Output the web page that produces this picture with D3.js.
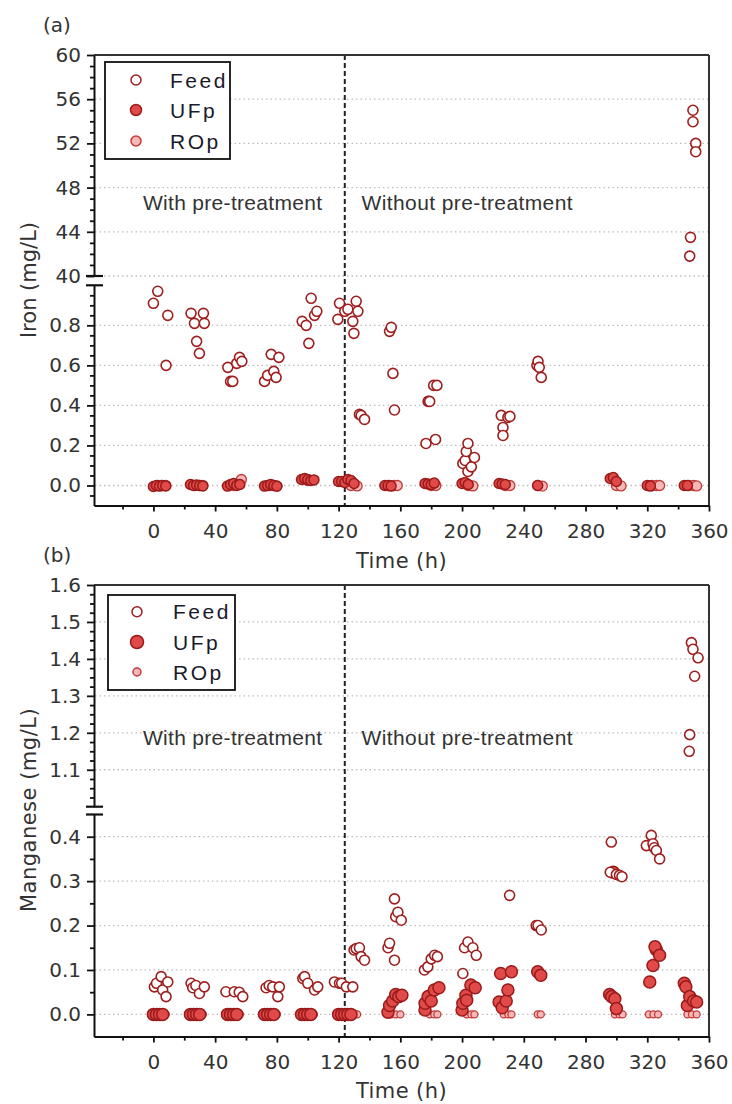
<!DOCTYPE html>
<html><head><meta charset="utf-8">
<script src="https://cdn.jsdelivr.net/npm/d3@7"></script>
<style>
body{margin:0;background:#fff}
svg{display:block}
</style>
</head><body>
<svg id="chart" width="732" height="1104"></svg>
<script>
// ---------- data ----------
const timeTicks = [0,40,80,120,160,200,240,280,320,360];
const timeMinorTicks = [-20,20,60,100,140,180,220,260,300,340];
const ironHighTicks = [40,44,48,52,56,60];
const ironLowTicks = [0,0.2,0.4,0.6,0.8];
const mnHighTicks = [1.1,1.2,1.3,1.4,1.5,1.6];
const mnLowTicks = [0,0.1,0.2,0.3,0.4];
const seriesNames = ["Feed","UFp","ROp"];
const phaseLabels = ["With pre-treatment","Without pre-treatment"];
const phaseSwitch = 124;
const panelLabels = ["(a)","(b)"];
const yTitles = ["Iron (mg/L)","Manganese (mg/L)"];
const xTitle = "Time (h)";

// [time (h), concentration (mg/L)]
const ironFeed = [
 [0,0.91],[2.8,0.97],[8.2,0.60],[9.3,0.85],
 [24.4,0.86],[26.6,0.81],[28,0.72],[29.8,0.66],[32.4,0.86],[33,0.81],
 [48.2,0.59],[50,0.52],[51.4,0.52],[54,0.61],[55.8,0.64],[57.3,0.62],
 [72,0.52],[74,0.55],[76.3,0.655],[78,0.57],[79.5,0.54],[81.3,0.64],
 [96.4,0.82],[99,0.80],[100.7,0.71],[102.2,0.935],[104.4,0.85],[105.9,0.87],
 [119.5,0.83],[120.6,0.91],[124,0.87],[126,0.88],[129.2,0.82],[129.9,0.76],[131.4,0.92],[132.5,0.87],
 [133.5,0.355],[134.6,0.35],[136.8,0.33],
 [153,0.77],[154.1,0.79],[155.2,0.56],[156.2,0.377],
 [176.6,0.21],[178,0.42],[179,0.42],[181.6,0.50],[182.8,0.23],[183.7,0.50],
 [200.5,0.11],[202,0.125],[202.7,0.17],[203.8,0.21],[203.8,0.07],[206,0.093],[208,0.14],
 [225.4,0.35],[226.5,0.29],[226.5,0.25],[229.7,0.34],[231,0.345],
 [248.5,0.60],[249.2,0.62],[250,0.59],[251.3,0.54],
 [347.5,41.8],[348,43.5],[349.6,55.0],[349.6,53.96],[351.4,52.0],[351.4,51.25]
];
const ironUFp = [
 [0,-0.005],[2,0],[4,-0.003],[6,0],[8,-0.002],
 [24,0.005],[26,0],[28,0.003],[30,0],[32,-0.002],
 [48,-0.003],[50,0.005],[52,0.01],[54,0],[56,0.005],
 [72,-0.003],[74,0],[76,0.005],[78,0],[80,-0.004],
 [96,0.03],[98,0.035],[100,0.03],[102,0.025],[104,0.028],
 [120,0.02],[122,0.02],[124,0.015],[126,0.03],[128,0.025],[130,0.01],
 [150,0],[152,0],[154,-0.003],
 [176,0.01],[178,0.008],[180,0.005],[182,0.012],
 [200,0.01],[202,0.015],[204,0.005],
 [224,0.01],[226,0.008],[228,0.005],
 [249,0],
 [296,0.035],[298,0.04],[300,0.02],
 [320,0],[322,-0.003],
 [344,0],[346,0]
];
const ironROp = [
 [3,0],[5,0],[8,0],
 [27,0],[30,0],[32,0],
 [52,0],[54,0.005],[57,0.03],
 [75,0],[78,0],[80,-0.002],
 [100,0.025],
 [128,0],[132,-0.002],
 [153,0],[156,0],[158,0],
 [180,0],[183,0],
 [204,0],[207,-0.002],
 [228,0],[231,0],
 [249,0],[252,-0.003],
 [300,0],[303,-0.002],
 [323,0],[326,0],[328,0],
 [347,0],[350,0],[352,-0.002]
];
const mnFeed = [
 [0.6,0.062],[2,0.07],[5,0.085],[6,0.055],[8.2,0.04],[9.3,0.073],
 [24.4,0.07],[25.5,0.06],[27.5,0.065],[29.8,0.047],[33,0.062],
 [47,0.051],[52.4,0.051],[55.6,0.05],[57.9,0.04],
 [73,0.06],[75,0.065],[77.3,0.062],[80.6,0.04],[81.6,0.062],
 [96.8,0.081],[98,0.085],[100,0.07],[104.4,0.055],[106.5,0.062],
 [117.3,0.073],[120.6,0.07],[122,0.07],[125,0.062],[129.2,0.062],
 [130,0.145],[131.4,0.148],[133.5,0.15],[134.6,0.13],[136.8,0.122],
 [152,0.15],[153,0.16],[156.2,0.122],[156.2,0.26],[157,0.22],[158.4,0.23],[160.6,0.212],
 [175.6,0.10],[177.8,0.107],[180,0.125],[182.2,0.133],[184,0.13],
 [200.5,0.092],[201.6,0.15],[203.8,0.163],[207,0.15],[209.2,0.133],
 [230.8,0.268],
 [248,0.20],[249.2,0.20],[251.3,0.19],
 [296.7,0.388],[296,0.32],[300,0.315],[302,0.313],[303.6,0.31],
 [319.4,0.38],[322.6,0.403],[323.7,0.384],[324.5,0.375],[325.9,0.369],[328,0.35],
 [347.2,1.15],[347.5,1.195],[348.6,1.444],[349.6,1.426],[350.7,1.353],[352.9,1.403]
];
const mnUFp = [
 [0,0],[2,0],[4,0],[6,0],
 [24,0],[26,0],[28,0],[30,0],
 [48,0],[50,0],[52,0],[54,0],
 [72,0],[74,0],[76,0],[78,0],
 [96,0],[98,0],[100,0],[102,0],
 [120,0],[122,0],[124,0],[126,0],[128,0],
 [152,0.005],[153,0.02],[155,0.03],[157,0.045],[159,0.04],[161,0.043],
 [176,0.01],[176,0.025],[178,0.04],[180,0.03],[182,0.055],[185,0.06],
 [200,0.01],[200.5,0.025],[202.5,0.043],[203,0.032],[205.7,0.066],[208.5,0.06],
 [224,0.028],[226,0.015],[225,0.092],[228.6,0.03],[229.7,0.055],[232,0.096],
 [249,0.096],[251,0.088],
 [295.6,0.045],[297,0.04],[299,0.035],[300,0.013],[298,0.32],
 [321.6,0.073],[323.7,0.11],[326,0.145],[325,0.152],[328,0.133],
 [344,0.07],[345,0.062],[346,0.02],[347.5,0.04],[350,0.03],[352,0.028]
];
const mnROp = [
 [4,0],[6,0],[8,0],
 [28,0],[30,0],[32,0],
 [52,0],[54,0],[56,0],
 [76,0],[78,0],[80,0],
 [100,0],[102,0],[104,0],
 [128,0],[130,0],[132,0],
 [154,0],[157,0],[160,0],
 [179,0],[182,0],[184,0],
 [203,0],[206,0],[208,0],
 [227,0],[230,0],[232,0],
 [249,0],[251,0],
 [299,0],[302,0],[304,0],
 [321,0],[324,0],[327,0],
 [346,0],[349,0],[352,0]
];

// ---------- style ----------
const C = {
  feedStroke:"#9e1e1e", ufFill:"#e04a48", ufStroke:"#9a1a1a",
  roFill:"#f6b8b6", roStroke:"#c23a38", grid:"#bdbdbd", text:"#333"
};
const tickFont = '"DejaVu Sans", Verdana, sans-serif';
const textFont = '"Liberation Sans", Arial, sans-serif';

const svg = d3.select("#chart");
const x = d3.scaleLinear().domain([-38.5,360]).range([94,709]);

function drawPanel(p){
  const g = svg.append("g");
  const yHi = d3.scaleLinear().domain(p.hiDomain).range(p.hiRange);
  const yLo = d3.scaleLinear().domain(p.loDomain).range(p.loRange);
  const y = v => v >= p.hiDomain[0] ? yHi(v) : yLo(v);
  const top = p.hiRange[1], bottom = p.loRange[0];

  // grid
  const gridVals = p.hiTicks.filter(v => v !== p.hiDomain[1]).map(v=>yHi(v))
    .concat(p.loTicks.map(v=>yLo(v)));
  g.append("g").selectAll("line").data(gridVals).join("line")
    .attr("x1",95).attr("x2",708).attr("y1",d=>d).attr("y2",d=>d)
    .attr("stroke",C.grid).attr("stroke-width",1.3).attr("stroke-dasharray","1.5,3");

  // phase divider
  g.append("line").attr("x1",x(phaseSwitch)).attr("x2",x(phaseSwitch))
    .attr("y1",top).attr("y2",bottom)
    .attr("stroke","#222").attr("stroke-width",2).attr("stroke-dasharray","5,3");

  // phase labels
  g.append("text").attr("x",143).attr("y",p.phaseY).text(phaseLabels[0])
    .attr("font-family",textFont).attr("font-size",21).attr("letter-spacing",0.3).attr("fill",C.text);
  g.append("text").attr("x",361.5).attr("y",p.phaseY).text(phaseLabels[1])
    .attr("font-family",textFont).attr("font-size",21).attr("letter-spacing",0.4).attr("fill",C.text);

  // frame (top + right)
  g.append("line").attr("x1",94).attr("x2",709).attr("y1",top).attr("y2",top)
    .attr("stroke","#333").attr("stroke-width",2);
  g.append("line").attr("x1",709).attr("x2",709).attr("y1",top).attr("y2",bottom)
    .attr("stroke","#333").attr("stroke-width",2);

  function styleAxis(sel){
    sel.selectAll(".domain").attr("stroke","#111").attr("stroke-width",2);
    sel.selectAll(".tick line").attr("stroke","#111").attr("stroke-width",1.8);
    sel.selectAll("text").attr("font-family",tickFont).attr("font-size",20)
      .attr("fill",C.text);
  }
  // left axis segments
  const aHi = g.append("g").attr("transform","translate(94,0)")
    .call(d3.axisLeft(yHi).tickValues(p.hiTicks).tickSize(7).tickSizeOuter(0).tickPadding(6)
      .tickFormat(p.hiFormat));
  styleAxis(aHi);
  const aLo = g.append("g").attr("transform","translate(94,0)")
    .call(d3.axisLeft(yLo).tickValues(p.loTicks).tickSize(7).tickSizeOuter(0).tickPadding(6)
      .tickFormat(p.loFormat));
  styleAxis(aLo);
  const mHi = g.append("g").attr("transform","translate(94,0)")
    .call(d3.axisLeft(yHi).tickValues(p.hiMinor).tickSize(4).tickFormat(""));
  mHi.select(".domain").remove(); styleAxis(mHi);
  const mLo = g.append("g").attr("transform","translate(94,0)")
    .call(d3.axisLeft(yLo).tickValues(p.loMinor).tickSize(4).tickFormat(""));
  mLo.select(".domain").remove(); styleAxis(mLo);

  // break marks
  [p.hiRange[0], p.loRange[1]].forEach(yy=>{
    g.append("line").attr("x1",86).attr("x2",103).attr("y1",yy).attr("y2",yy)
      .attr("stroke","#111").attr("stroke-width",2.2);
  });

  // bottom axis
  const ax = g.append("g").attr("transform",`translate(0,${bottom})`)
    .call(d3.axisBottom(x).tickValues(timeTicks).tickSize(6).tickSizeOuter(0).tickPadding(12)
      .tickFormat(d3.format("d")));
  styleAxis(ax);
  const axm = g.append("g").attr("transform",`translate(0,${bottom})`)
    .call(d3.axisBottom(x).tickValues(timeMinorTicks).tickSize(4).tickFormat(""));
  axm.select(".domain").remove(); styleAxis(axm);

  // axis titles
  g.append("text").attr("x",(94+709)/2).attr("y",p.xTitleY).attr("text-anchor","middle")
    .text(xTitle).attr("font-family",tickFont).attr("font-size",21).attr("letter-spacing",0.4).attr("fill",C.text);
  g.append("text").attr("transform",`translate(36,${p.yTitleC}) rotate(-90)`)
    .attr("text-anchor","middle").text(p.yTitle)
    .attr("font-family",tickFont).attr("font-size",21).attr("letter-spacing",p.yTitleLS).attr("fill",C.text);
  g.append("text").attr("x",43).attr("y",p.labelY).text(p.label)
    .attr("font-family",tickFont).attr("font-size",20).attr("fill",C.text);

  // points
  g.append("g").selectAll("circle").data(p.ro).join("circle")
    .attr("cx",d=>x(d[0])).attr("cy",d=>y(d[1])).attr("r",p.rRO)
    .attr("fill",C.roFill).attr("stroke",C.roStroke).attr("stroke-width",1.3);
  g.append("g").selectAll("circle").data(p.uf).join("circle")
    .attr("cx",d=>x(d[0])).attr("cy",d=>y(d[1])).attr("r",p.rUF)
    .attr("fill",C.ufFill).attr("stroke",C.ufStroke).attr("stroke-width",1.5);
  g.append("g").selectAll("circle").data(p.feed).join("circle")
    .attr("cx",d=>x(d[0])).attr("cy",d=>y(d[1])).attr("r",p.rFeed)
    .attr("fill","#fff").attr("stroke",C.feedStroke).attr("stroke-width",1.6);

  // legend
  const L = p.legend;
  const lg = g.append("g");
  lg.append("rect").attr("x",L.x).attr("y",L.y).attr("width",L.w).attr("height",L.h)
    .attr("fill","#fff").attr("stroke","#111").attr("stroke-width",1.8);
  const styles = [
    {fill:"#fff",stroke:C.feedStroke,r:L.r[0]},
    {fill:C.ufFill,stroke:C.ufStroke,r:L.r[1]},
    {fill:C.roFill,stroke:C.roStroke,r:L.r[2]}
  ];
  seriesNames.forEach((nm,i)=>{
    const yy = L.rows[i];
    lg.append("circle").attr("cx",L.mx).attr("cy",yy).attr("r",styles[i].r)
      .attr("fill",styles[i].fill).attr("stroke",styles[i].stroke).attr("stroke-width",1.5);
    lg.append("text").attr("x",L.tx).attr("y",yy+7.5).text(nm)
      .attr("font-family",textFont).attr("font-size",21).attr("letter-spacing",2.5).attr("fill","#1a1a2a");
  });
}

const r2 = v => Math.round(v*1000)/1000;
drawPanel({
  hiDomain:[40,60], hiRange:[276,55], loDomain:[-0.1,1.0], loRange:[505.5,285.3],
  hiTicks:ironHighTicks, loTicks:ironLowTicks,
  hiMinor:d3.range(41,60,1).filter(v=>v%4!==0),
  loMinor:d3.range(-1,20).map(i=>r2(i*0.05)).filter(v=>Math.round(v*100)%20!==0 && v>-0.1 && v<1.0),
  hiFormat:d3.format("d"), loFormat:d3.format(".1f"),
  phaseY:210, xTitleY:568, yTitleC:280, yTitle:yTitles[0], yTitleLS:0, label:panelLabels[0], labelY:32,
  feed:ironFeed, uf:ironUFp, ro:ironROp, rFeed:5, rUF:5, rRO:5,
  legend:{x:105,y:62,w:125,h:97,mx:136,tx:170,rows:[80,110,141],r:[5,5.5,5]}
});
drawPanel({
  hiDomain:[1.0,1.6], hiRange:[806.7,585], loDomain:[-0.05,0.45], loRange:[1036.6,814.5],
  hiTicks:mnHighTicks, loTicks:mnLowTicks,
  hiMinor:d3.range(1,24).map(i=>r2(1+i*0.025)).filter(v=>Math.round(v*1000)%100!==0),
  loMinor:[0.05,0.15,0.25,0.35],
  hiFormat:d3.format(".1f"), loFormat:d3.format(".1f"),
  phaseY:745, xTitleY:1098, yTitleC:810, yTitle:yTitles[1], yTitleLS:0.5, label:panelLabels[1], labelY:562,
  feed:mnFeed, uf:mnUFp, ro:mnROp, rFeed:5, rUF:6, rRO:3.5,
  legend:{x:108,y:595,w:127,h:95,mx:137,tx:173,rows:[611.7,642,672],r:[5,6.5,4]}
});
</script>
</body></html>
